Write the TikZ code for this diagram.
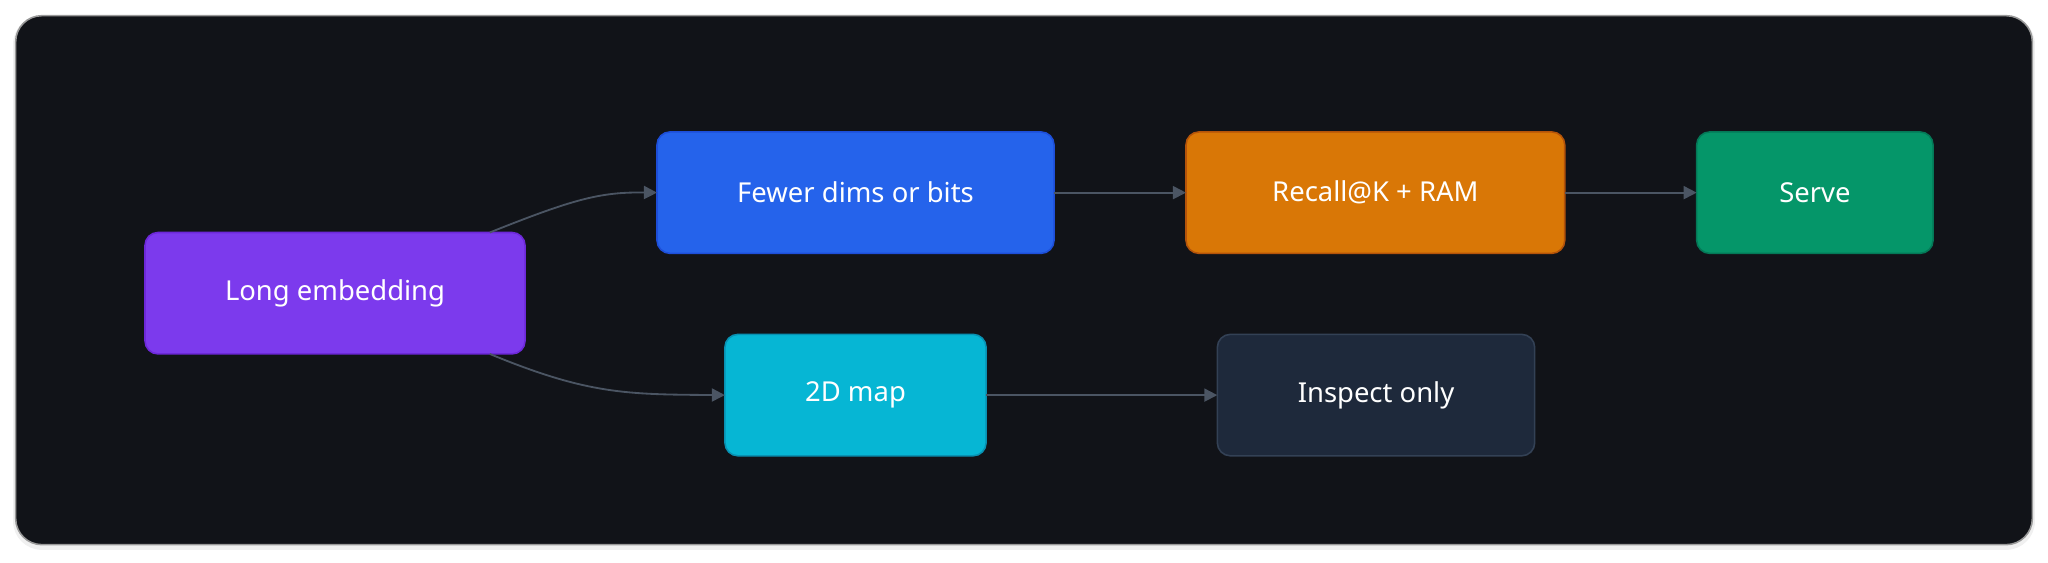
\documentclass[tikz,border=0pt]{standalone}
\usepackage{fontspec}
\setmainfont{Noto Sans}
\usetikzlibrary{arrows.meta}
\definecolor{bgc}{HTML}{111318}
\definecolor{edgec}{HTML}{4B5563}
\tikzset{
  x=0.5pt,y=-0.5pt,
  box/.style={rounded corners=5pt,line width=0.6pt,text=white,font=\fontsize{10.5}{12}\selectfont},
  conn/.style={draw=edgec,line width=0.7pt,-{Triangle[length=5pt,width=5pt]}}
}
\begin{document}
\begin{tikzpicture}
\useasboundingbox (0,0) rectangle (1568,431);
\fill[black!6,rounded corners=11pt] (10,12) rectangle (1558,421);
\fill[bgc,draw=black!40,line width=0.6pt,rounded corners=10pt] (12,12) rectangle (1556,417);
\def\bx#1#2#3#4#5#6#7#8{\filldraw[box,fill=#6,draw=#7] (#2,#3) rectangle (#4,#5);
  \node[text=white,font=\fontsize{10.5}{12}\selectfont] (#1) at ({(#2+#4)/2},{(#3+#5)/2}) {#8};
  \coordinate (#1w) at (#2,{(#3+#5)/2});\coordinate (#1e) at (#4,{(#3+#5)/2});}
\definecolor{cA}{HTML}{7C3AED}\definecolor{dA}{HTML}{6D28D9}
\definecolor{cB}{HTML}{2563EB}\definecolor{dB}{HTML}{1D4ED8}
\definecolor{cC}{HTML}{D97706}\definecolor{dC}{HTML}{B45309}
\definecolor{cD}{HTML}{059669}\definecolor{dD}{HTML}{047857}
\definecolor{cE}{HTML}{06B6D4}\definecolor{dE}{HTML}{0891B2}
\definecolor{cF}{HTML}{1E293B}\definecolor{dF}{HTML}{334155}
\bx{le}{111}{178}{402}{271}{cA}{dA}{Long embedding}
\bx{fd}{503}{101}{807}{194}{cB}{dB}{Fewer dims or bits}
\bx{rk}{908}{101}{1198}{194}{cC}{dC}{Recall@K + RAM}
\bx{sv}{1299}{101}{1480}{194}{cD}{dD}{Serve}
\bx{mp}{555}{256}{755}{349}{cE}{dE}{2D map}
\bx{io}{932}{256}{1175}{349}{cF}{dF}{Inspect only}
\coordinate (let) at (375,178);
\coordinate (leb) at (375,271);
\draw[conn] (let) .. controls (440,152) and (460,147) .. (fdw);
\draw[conn] (leb) .. controls (450,302) and (480,302) .. (mpw);
\draw[conn] (fde) -- (rkw);
\draw[conn] (rke) -- (svw);
\draw[conn] (mpe) -- (iow);
\end{tikzpicture}
\end{document}
